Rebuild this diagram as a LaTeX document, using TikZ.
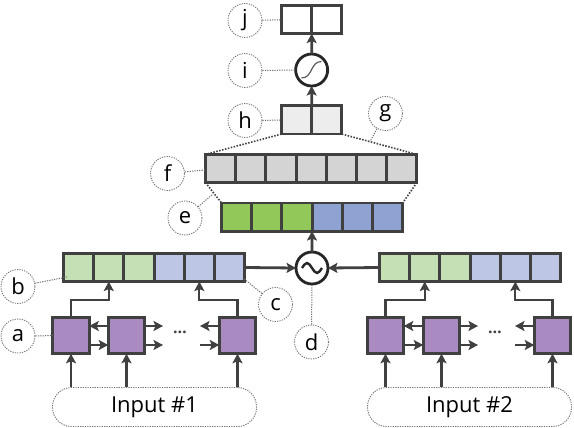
\documentclass[tikz,border=0pt]{standalone}
\usepackage{fontspec}
\setmainfont{Open Sans}
\usetikzlibrary{arrows.meta,calc}
\definecolor{bd}{HTML}{404040}
\definecolor{lgrn}{HTML}{C4E0B4}
\definecolor{lblu}{HTML}{BDC6E4}
\definecolor{dgrn}{HTML}{92C85A}
\definecolor{dblu}{HTML}{8FA3D3}
\definecolor{prp}{HTML}{A98BC1}
\definecolor{gry}{HTML}{D4D4D4}
\definecolor{lgry}{HTML}{EDEDED}
\definecolor{dotc}{HTML}{707070}
\tikzset{
  cell/.style={draw=bd, line width=2.9pt, minimum width=30.2pt, minimum height=28.1pt, inner sep=0pt, outer sep=0pt},
  pbox/.style={draw=bd, line width=2.9pt, fill=prp, minimum width=36.5pt, minimum height=36.5pt, inner sep=0pt, outer sep=0pt},
  opc/.style={circle, draw=black!85, line width=2.8pt, fill=white, minimum size=32pt, inner sep=0pt, outer sep=0pt},
  lbl/.style={circle, draw=dotc, line width=0.9pt, dash pattern=on 1.2pt off 1.2pt, minimum size=34pt, inner sep=0pt, font=\fontsize{22}{24}\selectfont},
  lline/.style={draw=dotc, line width=1pt, dash pattern=on 1.2pt off 1.2pt},
  zline/.style={draw=bd, line width=1.6pt, dash pattern=on 1.5pt off 1.5pt},
  arr/.style={draw=bd, line width=2.8pt, -{Stealth[length=9.5pt,width=10pt,inset=2pt]}},
  conn/.style={draw=bd, line width=2.2pt, -{Stealth[length=9.5pt,width=10pt,inset=2pt]}},
  inp/.style={draw=dotc, line width=0.9pt, dash pattern=on 1.2pt off 1.2pt, rounded corners=19pt, minimum width=204pt, minimum height=39pt, inner sep=0pt, font=\fontsize{22}{24}\selectfont},
}
\begin{document}
\begin{tikzpicture}[x=1pt,y=-1pt]
\useasboundingbox[fill=white] (0,0) rectangle (574,428);

% top output cells j
\foreach \k in {1,2} \node[cell, fill=white] (j\k) at ({281.45+30.2*(\k-0.5)},19.5) {};
% h cells
\foreach \k in {1,2} \node[cell, fill=lgry] (h\k) at ({281.45+30.2*(\k-0.5)},120) {};
% f cells
\foreach \k in {1,...,7} \node[cell, fill=gry] (f\k) at ({205.45+30.2*(\k-0.5)},168.5) {};
% e cells
\foreach \k/\c in {1/dgrn,2/dgrn,3/dgrn,4/dblu,5/dblu,6/dblu}
  \node[cell, fill=\c] (e\k) at ({221.45+30.2*(\k-0.5)},217) {};
% b rows
\foreach \k/\c in {1/lgrn,2/lgrn,3/lgrn,4/lblu,5/lblu,6/lblu}{
  \node[cell, fill=\c] (a\k) at ({63.45+30.2*(\k-0.5)},267.5) {};
  \node[cell, fill=\c] (r\k) at ({379.45+30.2*(\k-0.5)},267.5) {};
}

% operator circles
\node[opc] (sig) at (311.65,70) {};
\draw[black!65, line width=1.2pt] (301.5,78) .. controls (313,78) and (310,61.5) .. (321.5,61.5);
\node[opc] (tl) at (312,268) {};
\draw[black!85, line width=2.4pt] (302,268) sin (307,263) cos (312,268) sin (317,273) cos (322,268);

% zoom lines
\draw[zline] (h1.south west) -- (f1.north west);
\draw[zline] (h2.south east) -- (f7.north east);
\draw[zline] (f1.south west) -- (e1.north west);
\draw[zline] (f7.south east) -- (e6.north east);

% main arrows
\draw[arr] (h1.north east) -- (sig.south);
\draw[arr] (sig.north) -- (j1.south east);
\draw[arr] (tl.north) -- (e3.south east);
\draw[arr] (a6.east) -- (tl.west);
\draw[arr] (r1.west) -- (tl.east);

% purple boxes
\node[pbox] (p1) at (71,335.5) {};
\node[pbox] (p2) at (126.5,335.5) {};
\node[pbox] (p3) at (237.5,335.5) {};
\node[pbox] (q1) at (385.5,335.5) {};
\node[pbox] (q2) at (441.5,335.5) {};
\node[pbox] (q3) at (552.5,335.5) {};

% inputs
\node[inp] (in1) at (154.5,407) {Input \#1};
\node[inp] (in2) at (469.5,407) {Input \#2};

% ellipsis
\node[font=\fontsize{16}{18}\selectfont\bfseries, text=bd] (dots1) at (180,332) {…};
\node[font=\fontsize{16}{18}\selectfont\bfseries, text=bd] (dots2) at (495,332) {…};

% free ends of recurrent arrows
\coordinate (pe2t) at (163,326);
\coordinate (pe2b) at (163,345);
\coordinate (pw3t) at (200,326);
\coordinate (pw3b) at (200,345);
\coordinate (qe2t) at (478,326);
\coordinate (qe2b) at (478,345);
\coordinate (qw3t) at (515,326);
\coordinate (qw3b) at (515,345);

\foreach \L/\R/\E/\W in {p1/p2/pe2/pw3, q1/q2/qe2/qw3}{
  \draw[conn] ([yshift=9.5pt]\R.west) -- ([yshift=9.5pt]\L.east);
  \draw[conn] ([yshift=-9.5pt]\L.east) -- ([yshift=-9.5pt]\R.west);
  \draw[conn] (\E t -| \R.east) -- (\E t);
  \draw[conn] (\R.east |- \E b) -- (\E b);
}
\draw[conn] (pw3t -| p3.west) -- (pw3t);
\draw[conn] (pw3b) -- (pw3b -| p3.west);
\draw[conn] (qw3t -| q3.west) -- (qw3t);
\draw[conn] (qw3b) -- (qw3b -| q3.west);

% input arrows
\foreach \p/\i in {p1/in1,p2/in1,p3/in1,q1/in2,q2/in2,q3/in2}
  \draw[conn] (\p.south |- \i.north) -- (\p.south);

% elbows to b rows
\draw[conn] (p1.north) -- (p1.north |- 0,300) -| (a2.south);
\draw[conn] (p3.north) -- (p3.north |- 0,300) -| (a5.south);
\draw[conn] (q1.north) -- (q1.north |- 0,300) -| (r2.south);
\draw[conn] (q3.north) -- (q3.north |- 0,300) -| (r5.south);

% labels
\node[lbl] (lj) at (245,20.5) {j};
\node[lbl] (li) at (245,70.5) {i};
\node[lbl] (lh) at (245,120.5) {h};
\node[lbl] (lg) at (385.5,113.5) {g};
\node[lbl] (lf) at (167.5,173.5) {f};
\node[lbl] (le) at (185,218) {e};
\node[lbl] (lb) at (18,286.5) {b};
\node[lbl] (lc) at (275.5,304.5) {c};
\node[lbl] (ld) at (311.5,342) {d};
\node[lbl] (la) at (18,336) {a};

\coordinate (cb) at (67,277);
\coordinate (cc) at (243,278);
\coordinate (ce) at (213,194);
\coordinate (cg) at (370,141.5);

\draw[lline] (lj) -- (j1);
\draw[lline] (li) -- (sig);
\draw[lline] (lh) -- (h1);
\draw[lline] (lf) -- (f1);
\draw[lline] (la) -- (p1);
\draw[lline] (lb) -- (cb);
\draw[lline] (lc) -- (cc);
\draw[lline] (ld) -- (tl);
\draw[lline] (le) -- (ce);
\draw[lline] (lg) -- (cg);
\end{tikzpicture}
\end{document}
